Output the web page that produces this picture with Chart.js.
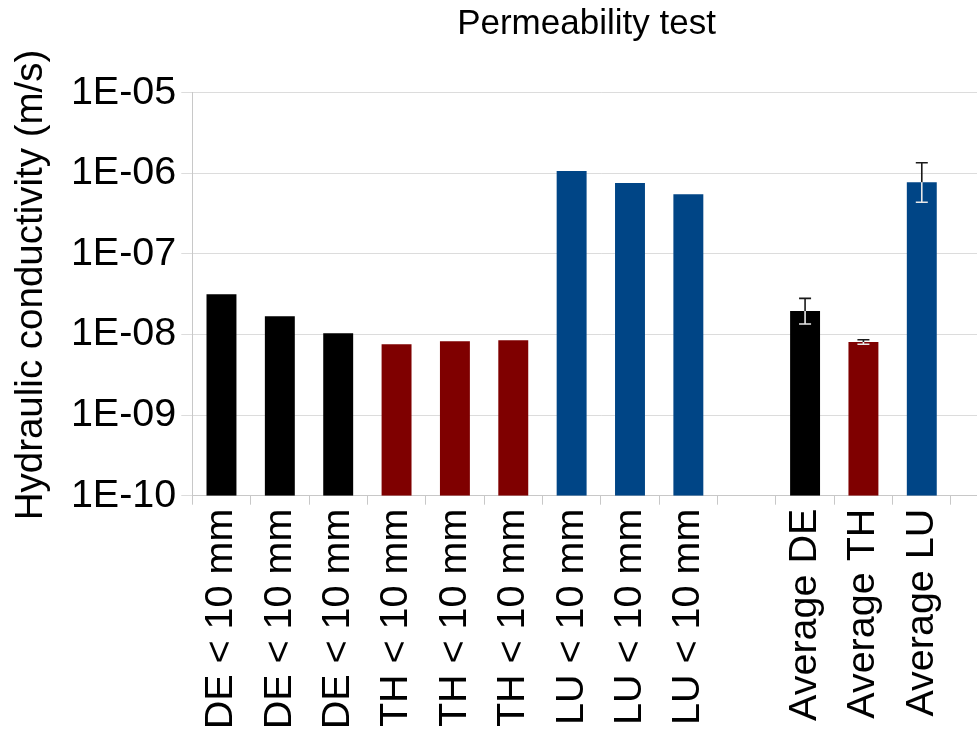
<!DOCTYPE html>
<html>
<head>
<meta charset="utf-8">
<script src="https://cdn.jsdelivr.net/npm/chart.js@4/dist/chart.umd.min.js"></script>
<style>
  html, body { margin: 0; padding: 0; background: #ffffff; overflow: hidden; }
  #wrap { width: 977px; height: 733px; overflow: hidden; position: relative; }
  canvas { display: block; }
</style>
</head>
<body>
<div id="wrap"><canvas id="chart" width="1032" height="733"></canvas></div>
<script>
// Sample labels (last slot left empty, the axis runs on past the final bar)
const categories = [
  'DE < 10 mm', 'DE < 10 mm', 'DE < 10 mm',
  'TH < 10 mm', 'TH < 10 mm', 'TH < 10 mm',
  'LU < 10 mm', 'LU < 10 mm', 'LU < 10 mm',
  '',
  'Average DE', 'Average TH', 'Average LU',
  ''
];

// Hydraulic conductivity in m/s
const conductivity = [
  3.15e-8, 1.68e-8, 1.04e-8,
  7.56e-9, 8.23e-9, 8.47e-9,
  1.068e-6, 7.58e-7, 5.49e-7,
  null,
  1.96e-8, 8.07e-9, 7.75e-7,
  null
];

// Error bar limits for the averages
const errorHigh = [null, null, null, null, null, null, null, null, null, null, 2.81e-8, 8.62e-9, 1.354e-6, null];
const errorLow  = [null, null, null, null, null, null, null, null, null, null, 1.35e-8, 7.56e-9, 4.37e-7, null];

// Site colours
const barColors = [
  '#000000', '#000000', '#000000',
  '#7f0000', '#7f0000', '#7f0000',
  '#004586', '#004586', '#004586',
  '#000000',
  '#000000', '#7f0000', '#004586',
  '#000000'
];

const yTickValues = [1e-10, 1e-9, 1e-8, 1e-7, 1e-6, 1e-5];
const yTickLabels = ['1E-10', '1E-09', '1E-08', '1E-07', '1E-06', '1E-05'];

const chartTitle = 'Permeability test';
const yAxisTitle = 'Hydraulic conductivity (m/s)';

const FONT = '"Liberation Sans", Arial, sans-serif';

// Chart heading and the vertical axis caption
const headingPlugin = {
  id: 'heading',
  afterDraw(chart) {
    const ctx = chart.ctx;
    ctx.save();
    ctx.fillStyle = '#000000';
    ctx.font = '35px ' + FONT;
    ctx.textAlign = 'center';
    ctx.textBaseline = 'alphabetic';
    ctx.fillText(chartTitle, 586.5, 34.3);

    ctx.translate(42, 285);
    ctx.rotate(-Math.PI / 2);
    ctx.font = '38.5px ' + FONT;
    ctx.fillText(yAxisTitle, 0, 0);
    ctx.restore();
  }
};

// Error bars: dark above the bar top, light where they cross the bar
const errorBarPlugin = {
  id: 'errorBars',
  afterDatasetsDraw(chart) {
    const ctx = chart.ctx;
    const meta = chart.getDatasetMeta(0);
    const y = chart.scales.y;
    const cap = 6;
    ctx.save();
    ctx.lineWidth = 1.6;
    meta.data.forEach((bar, i) => {
      if (errorHigh[i] == null || errorLow[i] == null) return;
      const x = bar.x;
      const yHi = y.getPixelForValue(errorHigh[i]);
      const yLo = y.getPixelForValue(errorLow[i]);
      const yTop = bar.y;
      const dark = '#1a1a1a';
      const light = '#e8e8e8';
      // segment above the bar
      ctx.strokeStyle = dark;
      ctx.beginPath();
      ctx.moveTo(x, yHi);
      ctx.lineTo(x, Math.min(yTop, yLo));
      ctx.moveTo(x - cap, yHi);
      ctx.lineTo(x + cap, yHi);
      ctx.stroke();
      // segment inside the bar
      ctx.strokeStyle = light;
      ctx.beginPath();
      ctx.moveTo(x, Math.max(yTop, yHi));
      ctx.lineTo(x, yLo);
      ctx.moveTo(x - cap, yLo);
      ctx.lineTo(x + cap, yLo);
      ctx.stroke();
    });
    ctx.restore();
  }
};

new Chart(document.getElementById('chart'), {
  type: 'bar',
  data: {
    labels: categories,
    datasets: [{
      data: conductivity,
      backgroundColor: barColors,
      borderWidth: 0,
      barPercentage: 0.513,
      categoryPercentage: 1.0
    }]
  },
  options: {
    responsive: false,
    animation: false,
    devicePixelRatio: 1,
    layout: { padding: { top: 92.7, right: 12.6, bottom: 0, left: 0 } },
    plugins: {
      legend: { display: false },
      title: { display: false },
      tooltip: { enabled: false }
    },
    scales: {
      x: {
        type: 'category',
        offset: true,
        grid: {
          offset: true,
          drawOnChartArea: false,
          drawTicks: true,
          tickLength: 9,
          color: '#c8c8c8'
        },
        border: { display: true, color: '#c8c8c8', width: 1 },
        ticks: {
          autoSkip: false,
          maxRotation: 90,
          minRotation: 90,
          padding: 4,
          color: '#000000',
          font: { family: FONT, size: 39.5 }
        },
        afterFit(scale) { scale.height = 733 - 495.7; }
      },
      y: {
        type: 'logarithmic',
        min: 1e-10,
        max: 1e-5,
        grid: {
          color: '#dcdcdc',
          tickLength: 11,
          drawTicks: true
        },
        border: { display: true, color: '#c8c8c8', width: 1 },
        afterBuildTicks(scale) {
          scale.ticks = yTickValues.map(v => ({ value: v }));
        },
        ticks: {
          padding: 5,
          color: '#000000',
          font: { family: FONT, size: 39.5 },
          callback(value) {
            const i = yTickValues.findIndex(v => Math.abs(Math.log10(v) - Math.log10(value)) < 1e-6);
            return i >= 0 ? yTickLabels[i] : '';
          }
        },
        title: { display: false },
        afterFit(scale) { scale.width = 192.3; }
      }
    }
  },
  plugins: [headingPlugin, errorBarPlugin]
});
</script>
</body>
</html>
